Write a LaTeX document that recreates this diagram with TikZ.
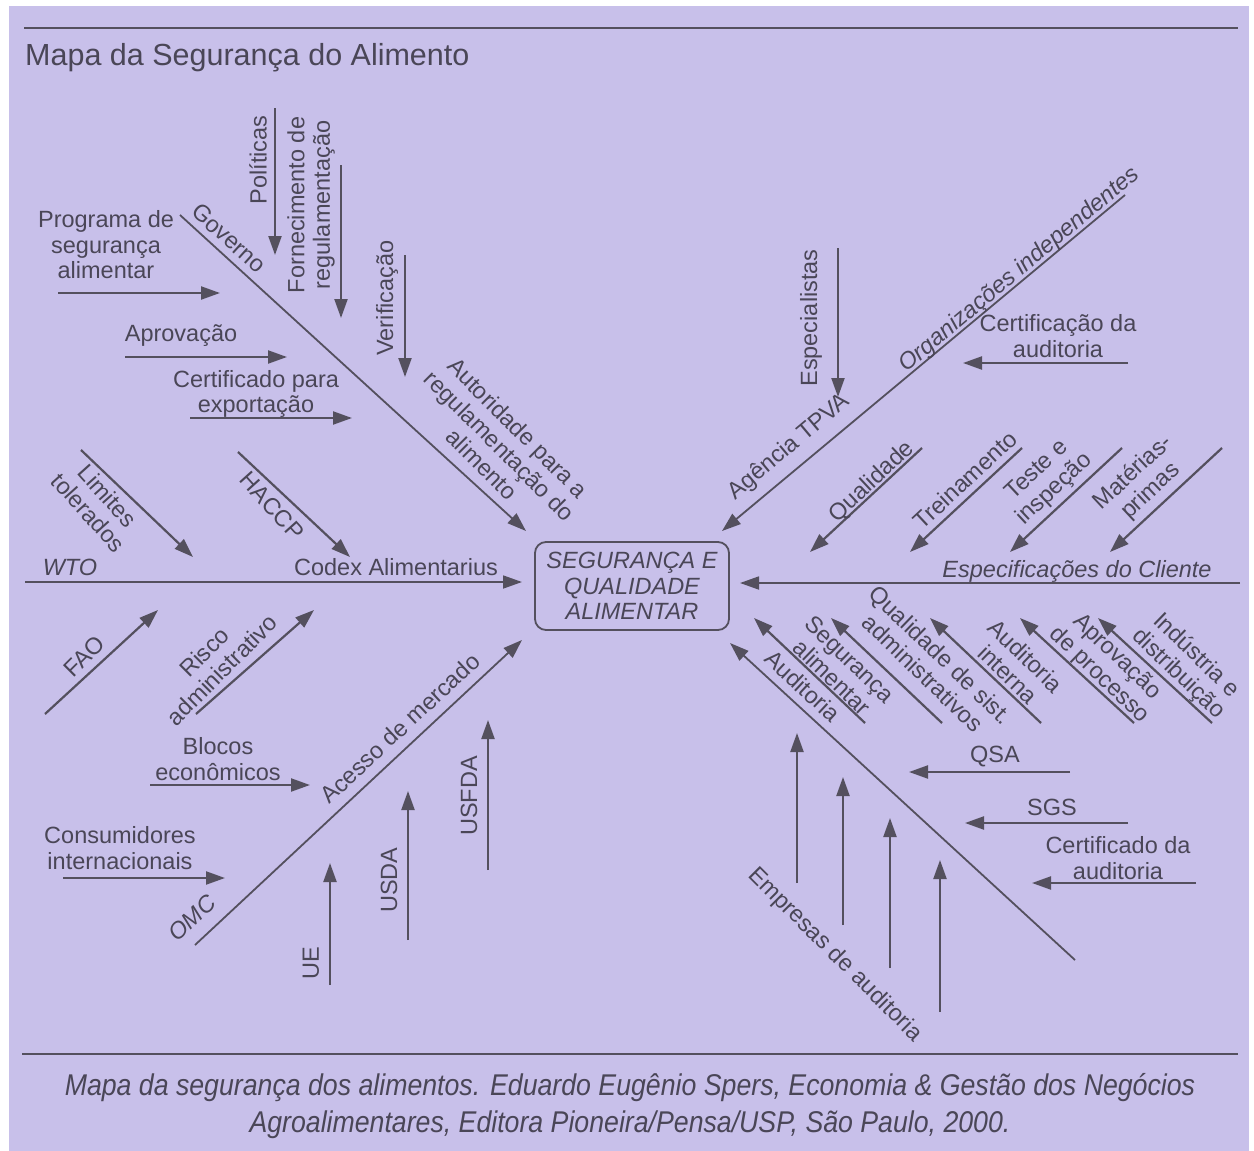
\documentclass[tikz,border=0pt]{standalone}
\usepackage{fontspec}
\setmainfont{Liberation Sans}
\usetikzlibrary{arrows.meta,positioning,calc}
\definecolor{Lilac}{HTML}{C8C0EA}
\definecolor{Ink}{HTML}{4A4657}
\definecolor{Wire}{HTML}{54505E}
\begin{document}
\begin{tikzpicture}[
  x=1pt,y=-1pt,
  lbl/.style={text=Ink,font=\fontsize{23.5}{25.5}\selectfont,inner sep=0pt,align=center},
  ilbl/.style={lbl,font=\fontsize{23.5}{25.5}\selectfont\itshape},
  arr/.style={-{Triangle[length=19pt,width=13pt]},line width=2.2pt,draw=Wire},
  spine/.style={arr,line width=1.8pt},
  rule/.style={line width=2.2pt,draw=Wire}
]
\useasboundingbox (0,0) rectangle (1254,1151);
\fill[white] (0,0) rectangle (1254,1151);
\fill[Lilac] (9,6) rectangle (1249,1151);

\coordinate (topL) at (24,28);   \coordinate (topR) at (1238,28);
\coordinate (botL) at (22,1054); \coordinate (botR) at (1238,1054);
\draw[rule] (topL) -- (topR);
\draw[rule] (botL) -- (botR);
\node[lbl,anchor=west,font=\fontsize{30.5}{34}\selectfont] (title) at (25,58) {Mapa da Segurança do Alimento};

\node[draw=Wire,line width=1.8pt,rounded corners=11pt,minimum width=194pt,minimum height=88pt,ilbl] (core) at (632,586) {SEGURANÇA E\\QUALIDADE\\ALIMENTAR};

\coordinate (govA) at (180,215);  \coordinate (govB) at (526,531);
\coordinate (wtoA) at (25,582);   \coordinate (wtoB) at (522,582);
\coordinate (omcA) at (195,945);  \coordinate (omcB) at (522,640);
\coordinate (orgA) at (1125,195); \coordinate (orgB) at (722,531);
\coordinate (espA) at (1240,583); \coordinate (espB) at (740,583);
\coordinate (audA) at (1075,960); \coordinate (audB) at (730,643);
\draw[spine] (govA) -- (govB);
\draw[spine] (wtoA) -- (wtoB);
\draw[spine] (omcA) -- (omcB);
\draw[spine] (orgA) -- (orgB);
\draw[spine] (espA) -- (espB);
\draw[spine] (audA) -- (audB);

\node[lbl,rotate=-42] (govL) at (229,238) {Governo};
\node[lbl,rotate=-45] (autL) at (500,446) {Autoridade para a\\regulamentação do\\alimento};
\node[ilbl,anchor=base] (wtoL) at (70,575) {WTO};
\node[lbl,anchor=base] (codL) at (396,575) {Codex Alimentarius};
\node[ilbl,rotate=43] (omcL) at (192,918) {OMC};
\node[lbl,rotate=43] (aceL) at (400,728) {Acesso de mercado};
\node[ilbl,rotate=40] (orgL) at (1020,270) {Organizações independentes};
\node[lbl,rotate=40] (agL) at (789,447) {Agência TPVA};
\node[ilbl,anchor=base] (espL) at (1077,577) {Especificações do Cliente};
\node[lbl,rotate=-43] (audL) at (803,686) {Auditoria};
\node[lbl,rotate=-45] (empL) at (835,955) {Empresas de auditoria};

\coordinate (polA) at (275,108); \coordinate (polB) at (275,255);
\coordinate (forA) at (341,165); \coordinate (forB) at (341,318);
\coordinate (verA) at (405,255); \coordinate (verB) at (405,377);
\coordinate (proA) at (58,293);  \coordinate (proB) at (220,293);
\coordinate (aprA) at (125,357); \coordinate (aprB) at (287,357);
\coordinate (cerA) at (190,418); \coordinate (cerB) at (352,418);
\draw[arr] (polA) -- (polB);
\draw[arr] (forA) -- (forB);
\draw[arr] (verA) -- (verB);
\draw[arr] (proA) -- (proB);
\draw[arr] (aprA) -- (aprB);
\draw[arr] (cerA) -- (cerB);
\node[lbl,rotate=90] (polL) at (258,160) {Políticas};
\node[lbl,rotate=90] (forL) at (311,205) {Fornecimento de\\regulamentação};
\node[lbl,rotate=90] (verL) at (387,298) {Verificação};
\node[lbl] (proL) at (106,245) {Programa de\\segurança\\alimentar};
\node[lbl] (aprL) at (181,336) {Aprovação};
\node[lbl] (cerL) at (256,394) {Certificado para\\exportação};

\coordinate (limA) at (81,450);  \coordinate (limB) at (193,557);
\coordinate (hacA) at (238,452); \coordinate (hacB) at (350,557);
\coordinate (faoA) at (45,714);  \coordinate (faoB) at (158,610);
\coordinate (risA) at (196,714); \coordinate (risB) at (314,610);
\draw[arr] (limA) -- (limB);
\draw[arr] (hacA) -- (hacB);
\draw[arr] (faoA) -- (faoB);
\draw[arr] (risA) -- (risB);
\node[lbl,rotate=-48] (limL) at (98,504) {Limites\\tolerados};
\node[lbl,rotate=-48] (hacL) at (272,506) {HACCP};
\node[lbl,rotate=45] (faoL) at (84,656) {FAO};
\node[lbl,rotate=45] (risL) at (213,661) {Risco\\administrativo};

\coordinate (bloA) at (150,785); \coordinate (bloB) at (310,785);
\coordinate (conA) at (63,878);  \coordinate (conB) at (225,878);
\coordinate (ueA) at (330,985);  \coordinate (ueB) at (330,863);
\coordinate (usdA) at (408,940); \coordinate (usdB) at (408,791);
\coordinate (fdaA) at (488,870); \coordinate (fdaB) at (488,720);
\draw[arr] (bloA) -- (bloB);
\draw[arr] (conA) -- (conB);
\draw[arr] (ueA) -- (ueB);
\draw[arr] (usdA) -- (usdB);
\draw[arr] (fdaA) -- (fdaB);
\node[lbl] (bloL) at (218,759) {Blocos\\econômicos};
\node[lbl] (conL) at (120,848) {Consumidores\\internacionais};
\node[lbl,rotate=90] (ueL) at (311,963) {UE};
\node[lbl,rotate=90] (usdL) at (389,880) {USDA};
\node[lbl,rotate=90] (fdaL) at (469,796) {USFDA};

\coordinate (speA) at (838,248);  \coordinate (speB) at (838,397);
\coordinate (cfaA) at (1128,363); \coordinate (cfaB) at (963,363);
\draw[arr] (speA) -- (speB);
\draw[arr] (cfaA) -- (cfaB);
\node[lbl,rotate=90] (speL) at (811,318) {Especialistas};
\node[lbl] (cfaL) at (1058,336) {Certificação da\\auditoria};

\coordinate (quaA) at (922,448);  \coordinate (quaB) at (810,552);
\coordinate (treA) at (1022,448); \coordinate (treB) at (910,552);
\coordinate (tesA) at (1122,448); \coordinate (tesB) at (1010,552);
\coordinate (matA) at (1222,448); \coordinate (matB) at (1110,552);
\draw[arr] (quaA) -- (quaB);
\draw[arr] (treA) -- (treB);
\draw[arr] (tesA) -- (tesB);
\draw[arr] (matA) -- (matB);
\node[lbl,rotate=43] (quaL) at (872,482) {Qualidade};
\node[lbl,rotate=43] (treL) at (965,480) {Treinamento};
\node[lbl,rotate=43] (tesL) at (1046,480) {Teste e\\inspeção};
\node[lbl,rotate=43] (matL) at (1142,482) {Matérias-\\primas};

\coordinate (segA) at (865,723);  \coordinate (segB) at (754,618);
\coordinate (qsiA) at (942,723);  \coordinate (qsiB) at (831,618);
\coordinate (intA) at (1041,723); \coordinate (intB) at (930,618);
\coordinate (pcsA) at (1134,723); \coordinate (pcsB) at (1020,618);
\coordinate (indA) at (1212,723); \coordinate (indB) at (1098,618);
\draw[arr] (segA) -- (segB);
\draw[arr] (qsiA) -- (qsiB);
\draw[arr] (intA) -- (intB);
\draw[arr] (pcsA) -- (pcsB);
\draw[arr] (indA) -- (indB);
\node[lbl,rotate=-44] (segL) at (841,668) {Segurança\\alimentar};
\node[lbl,rotate=-44] (qsiL) at (932,664) {Qualidade de sist.\\administrativos};
\node[lbl,rotate=-44] (intL) at (1017,665) {Auditoria\\interna};
\node[lbl,rotate=-44] (pcsL) at (1108,666) {Aprovação\\de processo};
\node[lbl,rotate=-44] (indL) at (1187,665) {Indústria e\\distribuição};

\coordinate (qsaA) at (1070,772); \coordinate (qsaB) at (909,772);
\coordinate (sgsA) at (1128,823); \coordinate (sgsB) at (965,823);
\coordinate (cdaA) at (1196,883); \coordinate (cdaB) at (1032,883);
\draw[arr] (qsaA) -- (qsaB);
\draw[arr] (sgsA) -- (sgsB);
\draw[arr] (cdaA) -- (cdaB);
\node[lbl] (qsaL) at (995,757) {QSA};
\node[lbl] (sgsL) at (1052,807) {SGS};
\node[lbl] (cdaL) at (1118,858) {Certificado da\\auditoria};

\coordinate (e1A) at (797,883);  \coordinate (e1B) at (797,733);
\coordinate (e2A) at (843,925);  \coordinate (e2B) at (843,777);
\coordinate (e3A) at (890,968);  \coordinate (e3B) at (890,818);
\coordinate (e4A) at (940,1012); \coordinate (e4B) at (940,860);
\draw[arr] (e1A) -- (e1B);
\draw[arr] (e2A) -- (e2B);
\draw[arr] (e3A) -- (e3B);
\draw[arr] (e4A) -- (e4B);

\node[ilbl,xscale=0.89,font=\fontsize{30}{37}\selectfont\itshape] (cap) at (630,1106) {Mapa da segurança dos alimentos. Eduardo Eugênio Spers, Economia \& Gestão dos Negócios\\Agroalimentares, Editora Pioneira/Pensa/USP, São Paulo, 2000.};
\end{tikzpicture}
\end{document}
